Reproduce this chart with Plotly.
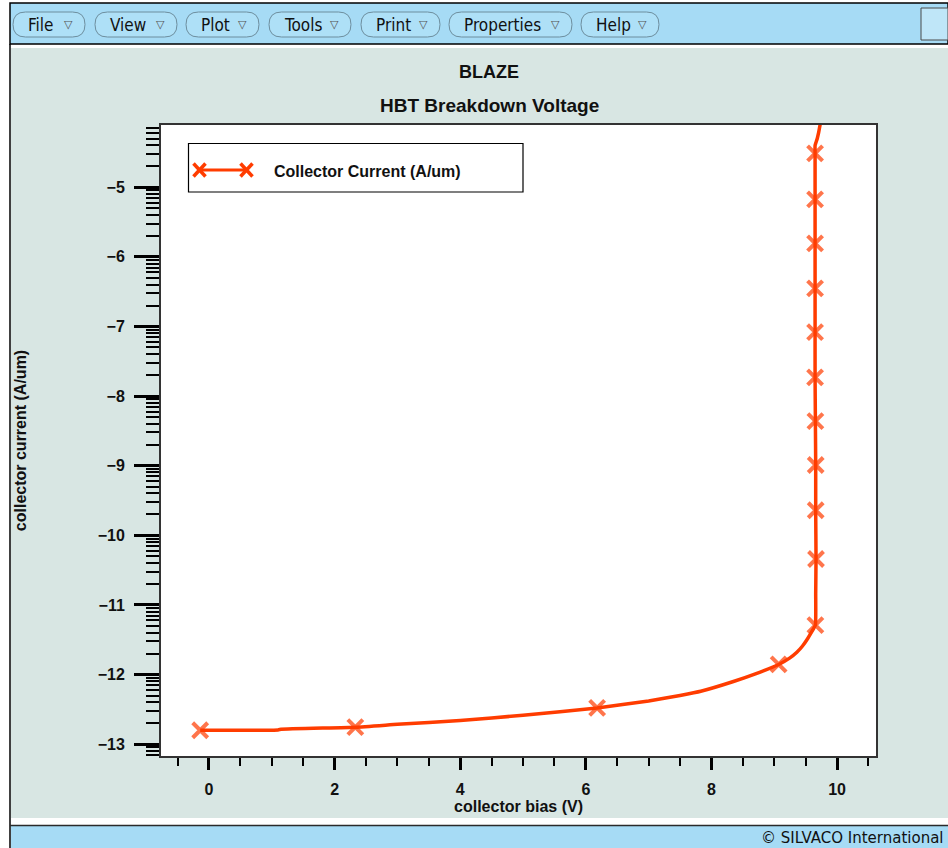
import math
import plotly.graph_objects as go

# ---- sweep data: collector bias (V) vs log10 collector current (A/um) ----
bias_v = [-0.14, 1.10, 1.15, 2.33, 3.00, 4.00, 5.00, 6.18, 7.00, 7.50, 7.83,
          8.35, 8.70, 9.07, 9.25, 9.36, 9.45, 9.52, 9.60, 9.655, 9.66, 9.665,
          9.66, 9.66, 9.655, 9.65, 9.65, 9.65, 9.65, 9.65, 9.65, 9.65, 9.685,
          9.73, 9.75]
log_current = [-12.80, -12.795, -12.785, -12.756, -12.715, -12.66, -12.585,
               -12.48, -12.38, -12.30, -12.24, -12.10, -11.99, -11.855, -11.76,
               -11.68, -11.59, -11.50, -11.38, -11.29, -10.83, -10.34, -9.64,
               -8.99, -8.36, -7.73, -7.08, -6.453, -5.806, -5.174, -4.513,
               -4.40, -4.30, -4.10, -3.95]
# indices of the sweep points that carry a symbol
marked = [0, 3, 7, 13, 19, 21, 22, 23, 24, 25, 26, 27, 28, 29, 30]

series_name = "Collector Current (A/um)"
x_major = [0, 2, 4, 6, 8, 10]
x_minor = [-0.5 + 0.5 * i for i in range(23) if (-0.5 + 0.5 * i) % 2 != 0]
y_major = [-13, -12, -11, -10, -9, -8, -7, -6, -5]
y_labels = ["\u221213", "\u221212", "\u221211", "\u221210", "\u22129",
            "\u22128", "\u22127", "\u22126", "\u22125"]
y_minor = [d + math.log10(k) for d in range(-14, -4) for k in range(2, 10)]

menu_items = ["File", "View", "Plot", "Tools", "Print", "Properties", "Help"]
menu_spans = [(13, 85), (95, 177), (186, 259), (269, 351), (361, 440),
              (449, 572), (581, 659)]

# ---- page geometry (pixels) ----
W, H = 948, 848
L, R, T, B = 161, 876, 125, 756
CURVE = "#ff3c00"
TEAL = "#d8e6e3"
BAR = "#a6dbf5"
FONT = "Liberation Sans, Arial, sans-serif"


def px(x):
    return (x - L) / (R - L)


def py(y):
    return (B - y) / (B - T)


def rect(x0, y0, x1, y1, fill, line=None, lw=0):
    return dict(type="rect", xref="paper", yref="paper", layer="below",
                x0=px(x0), x1=px(x1), y0=py(y1), y1=py(y0), fillcolor=fill,
                line=dict(color=line or fill, width=lw))


def seg(x0, y0, x1, y1, color, lw, layer="below"):
    return dict(type="line", xref="paper", yref="paper", layer=layer,
                x0=px(x0), x1=px(x1), y0=py(y0), y1=py(y1),
                line=dict(color=color, width=lw))


def pill(x0, x1, y0, y1):
    r = (y1 - y0) / 2
    pts = [("M", x0 + r, y0), ("L", x1 - r, y0), ("Q", x1, y0, x1, y0 + r),
           ("Q", x1, y1, x1 - r, y1), ("L", x0 + r, y1),
           ("Q", x0, y1, x0, y0 + r), ("Q", x0, y0, x0 + r, y0)]
    parts = []
    for p in pts:
        cmd, coords = p[0], p[1:]
        xy = []
        for i in range(0, len(coords), 2):
            xy.append(f"{px(coords[i]):.5f},{py(coords[i + 1]):.5f}")
        parts.append(cmd + " " + " ".join(xy))
    return dict(type="path", xref="paper", yref="paper", layer="below",
                path=" ".join(parts) + " Z", fillcolor="#aee0f7",
                line=dict(color="#6d8e9e", width=1))


shapes = [
    # window chrome
    rect(10, 3, 948, 44, BAR, "#000000", 1.5),
    rect(921, 8, 948, 40, "#bfe6f8", "#4a4a4a", 1),
    rect(11, 48, 948, 818, TEAL),
    rect(L, T, R, B, "#ffffff"),
    seg(10, 44, 10, 848, "#000000", 1.5),
    rect(11, 826, 948, 848, BAR),
    seg(10, 825.5, 948, 825.5, "#2a2a2a", 1.5),
]
annotations = []

for label, (a, b) in zip(menu_items, menu_spans):
    shapes.append(pill(a, b, 12, 37))
    annotations.append(dict(xref="paper", yref="paper", x=px(a + 13), y=py(24.5),
                            xanchor="left", yanchor="middle", text=label,
                            showarrow=False,
                            font=dict(family="DejaVu Sans Condensed, DejaVu Sans",
                                      size=17, color="#111111")))
    annotations.append(dict(xref="paper", yref="paper", x=px(b - 17), y=py(24),
                            xanchor="center", yanchor="middle", text="\u25bd",
                            showarrow=False,
                            font=dict(family="DejaVu Sans", size=11,
                                      color="#555555")))

# titles
annotations.append(dict(xref="paper", yref="paper", x=px(489), y=py(72),
                        xanchor="center", yanchor="middle", text="<b>BLAZE</b>",
                        showarrow=False,
                        font=dict(family=FONT, size=18, color="#111111")))
annotations.append(dict(xref="paper", yref="paper", x=px(489), y=py(105),
                        xanchor="center", yanchor="middle",
                        text="<b>HBT Breakdown Voltage</b>", showarrow=False,
                        font=dict(family=FONT, size=19, color="#111111")))
# status bar credit, kept inside the window's right edge
annotations.append(dict(xref="paper", yref="paper", x=px(946), y=py(838),
                        xanchor="right", yanchor="middle",
                        text="\u00a9 SILVACO International", showarrow=False,
                        font=dict(family="DejaVu Sans", size=15,
                                  color="#111111")))

# legend box with its sample line and symbols
shapes.append(dict(type="rect", xref="paper", yref="paper", layer="above",
                   x0=px(188.5), x1=px(523), y0=py(192), y1=py(143.5),
                   fillcolor="#ffffff", line=dict(color="#000000", width=1.2)))
shapes.append(seg(199, 170, 247, 170, CURVE, 3, "above"))
for cx in (199.5, 246.5):
    shapes.append(seg(cx - 6, 163.5, cx + 6, 176.5, CURVE, 3.5, "above"))
    shapes.append(seg(cx - 6, 176.5, cx + 6, 163.5, CURVE, 3.5, "above"))
annotations.append(dict(xref="paper", yref="paper", x=px(272), y=py(171),
                        xanchor="left", yanchor="middle",
                        text=f"<b>{series_name}</b>", showarrow=False,
                        font=dict(family=FONT, size=16, color="#111111")))

sizes = [15 if i in marked else 0 for i in range(len(bias_v))]

fig = go.Figure(go.Scatter(
    x=bias_v, y=log_current, mode="lines+markers", name=series_name,
    line=dict(color=CURVE, width=3.5, shape="spline", smoothing=0.4),
    marker=dict(symbol="x-thin", size=sizes, color=CURVE,
                line=dict(color=CURVE, width=4)),
    showlegend=False, hoverinfo="skip"))

tick_font = dict(family=FONT, size=16, color="#111111", weight="bold")
title_font = dict(family=FONT, size=16, color="#111111", weight="bold")

fig.update_layout(
    width=W, height=H,
    margin=dict(l=L, r=W - R, t=T, b=H - B, autoexpand=False),
    paper_bgcolor="#ffffff", plot_bgcolor="#ffffff",
    shapes=shapes, annotations=annotations, showlegend=False,
    xaxis=dict(range=[-0.764, 10.62], tickmode="array", tickvals=x_major,
               ticks="outside", ticklen=12, tickwidth=2.5, tickcolor="#000000",
               showline=True, mirror=True, linecolor="#333333", linewidth=2,
               showgrid=False, zeroline=False, tickfont=tick_font,
               ticklabelstandoff=6,
               minor=dict(tickmode="array", tickvals=x_minor, ticks="outside",
                          ticklen=8, tickwidth=1.5, tickcolor="#000000",
                          showgrid=False),
               title=dict(text="collector bias (V)", font=title_font,
                          standoff=2)),
    yaxis=dict(range=[-13.17, -4.106], tickmode="array", tickvals=y_major,
               ticktext=y_labels, ticks="outside", ticklen=25, tickwidth=2.5,
               tickcolor="#000000", showline=True, mirror=True,
               linecolor="#333333", linewidth=2, showgrid=False,
               zeroline=False, tickfont=tick_font, ticklabelstandoff=6,
               minor=dict(tickmode="array", tickvals=y_minor, ticks="outside",
                          ticklen=13, tickwidth=1.5, tickcolor="#000000",
                          showgrid=False),
               title=dict(text="collector current (A/um)", font=title_font,
                          standoff=67)),
)

fig.write_html("out.html", config={"displayModeBar": False})
